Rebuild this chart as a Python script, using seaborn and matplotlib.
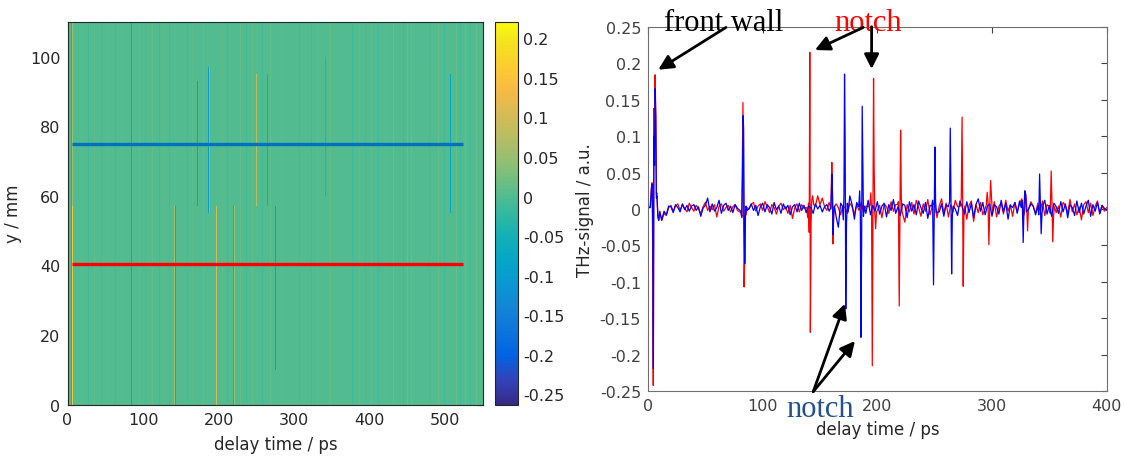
import numpy as np
import matplotlib
matplotlib.use("Agg")
import matplotlib.pyplot as plt
from matplotlib.colors import LinearSegmentedColormap
import seaborn as sns

# ------------------------------------------------------------------ data
# Left: B-scan (y / mm vs delay time / ps), echo stripes
stripe_t  = [5, 6, 6, 84, 85, 141, 142, 172, 186, 187, 196, 197, 219, 220,
             250, 264, 275, 341, 352, 483, 506]
stripe_y0 = [0, 0, 57, 0, 0, 0, 0, 57, 55, 55, 0, 0, 0, 0,
             57, 57, 10, 60, 0, 0, 55]
stripe_y1 = [110, 57, 110, 110, 110, 57, 57, 93, 97, 97, 57, 57, 57, 57,
             95, 95, 57, 100, 57, 57, 95]
stripe_v  = [-0.05, 0.15, 0.06, -0.07, 0.03, 0.06, -0.07, -0.08, -0.10, 0.04,
             -0.04, 0.10, -0.05, 0.05, 0.08, -0.06, -0.08, -0.04, -0.04, 0.08, -0.08]
faint_t = [12, 18, 27, 35, 44, 52, 63, 71, 95, 103, 112, 121, 128, 134, 151, 158,
           165, 179, 192, 205, 211, 228, 236, 244, 258, 268, 283, 290, 298, 306,
           315, 322, 330, 347, 360, 368, 377, 386, 394, 402, 411, 420, 431, 438,
           444, 449, 455, 462, 470, 478, 490, 498, 514, 519, 526, 533, 541]
faint_v = [-0.01, 0.008, -0.008, 0.01, -0.008, 0.008, -0.01, 0.008, 0.01, -0.008,
           0.01, -0.01, 0.008, -0.01, 0.01, -0.008, 0.008, 0.01, -0.01, 0.008,
           -0.01, 0.01, -0.008, 0.01, -0.01, 0.01, 0.008, -0.01, 0.01, -0.008,
           0.01, -0.01, 0.008, 0.01, -0.008, 0.01, -0.01, 0.008, -0.008, 0.01,
           -0.01, 0.008, 0.015, 0.018, -0.01, 0.018, 0.015, -0.01, 0.012, -0.008,
           0.012, -0.01, 0.015, -0.01, 0.018, -0.008, 0.012]
n_y_mm, n_t_ps = 110, 550
scan_t = [6, 523]          # extent of the two marked scan lines
blue_scan_y = 75.0
red_scan_y = 40.5

# Right: A-scans, baseline noise on a 2 ps grid (in 1e-3 a.u.)
noise_t = list(range(0, 401, 2))
red_noise_milli = [
    0, 1, 3, 5, 0, -14, -16, -6, -9, 2,
    5, -3, 4, 7, -2, 6, 1, -4, 8, 2,
    -3, 5, 0, -6, 3, 9, -2, 4, -1, 6,
    -11, 4, 7, -3, 2, 5, -4, 3, 6, -2,
    2, -5, 0, 0, 0, 6, 9, -3, 4, 7,
    -2, 10, 3, -5, 6, 2, -7, 4, 8, -1,
    3, -6, 5, -13, 2, 7, -4, 6, 1, -3,
    0, 0, 12, 4, 18, 6, 15, 3, -2, 9,
    0, -4, 7, 2, -8, 5, 1, -6, 8, 3,
    -7, 6, -2, 9, -5, 4, 3, 8, -1, -20,
    -8, 5, -12, 7, 3, -6, 10, -3, 6, -9,
    4, 11, -18, 6, -4, 9, -7, 12, 2, -10,
    7, -3, 13, -8, 5, 10, -12, 4, 14, -6,
    8, -11, 6, -4, 12, 3, -9, 7, 0, -14,
    5, 11, -17, 6, -5, 9, -8, 13, 3, 0,
    -6, 10, -11, 4, 8, -7, 12, -3, 6, -10,
    9, -4, 7, 14, -8, 5, -12, 10, 3, -6,
    8, -3, 11, -9, 6, 2, -7, 12, -5, 4,
    -11, 9, 5, -6, 13, -4, 7, -8, 3, -15,
    6, 10, -5, 8, -9, 4, 11, -7, 5, -3,
    2]
blue_noise_milli = [
    2, 0, 3, 4, 0, -12, -15, -3, -8, 4,
    3, -5, 6, 2, -4, 7, -1, 5, -3, 4,
    6, -2, 3, -10, 1, 5, 15, -4, 7, -3,
    2, 12, -6, 5, 8, -2, 4, -5, 6, 1,
    -3, 0, 0, 0, 0, 7, -2, 5, -9, 3,
    8, -4, 6, 2, -7, 9, -1, 4, -6, 7,
    0, 5, -8, 3, 6, -4, 8, -2, 5, -5,
    4, 2, -6, 7, 0, 5, -4, 3, 6, -3,
    0, 0, -10, -25, 8, 14, 0, -12, 18, 6,
    -14, 9, 0, 0, 0, -6, 12, -8, 5, -3,
    10, -7, 4, 8, -11, 6, -2, 13, -6, 3,
    -9, 7, 5, -12, 10, -3, 6, -8, 11, 2,
    -6, 9, -13, 5, 8, 0, 0, -4, 7, -10,
    6, 4, 0, 0, 0, -9, 11, 3, -7, 10,
    -5, 8, -12, 6, 14, -3, 9, -8, 4, 7,
    -10, 6, 3, -7, 12, -4, 8, -14, 5, 2,
    9, -6, 11, -3, 0, 0, 0, 7, 4, -8,
    0, 0, 0, 12, -7, 5, -10, 8, 3, -6,
    10, -4, 7, -12, 6, 2, -9, 11, -5, 8,
    -7, 4, 12, -10, 6, -3, 9, -6, 5, 1,
    -2]

# Echo pulses (y = 40.5 mm trace, red)
red_pulse_t = [2.0, 3.0, 3.6, 4.1, 4.6, 5.1, 5.5, 6.2, 6.8, 7.3, 7.8, 8.6, 9.4, 10.2,
               81.0, 81.8, 82.3, 82.8, 83.3, 83.8, 84.4, 85.0, 85.6, 86.3,
               138.5, 139.3, 140.0, 140.6, 141.1, 141.6, 142.2, 142.8, 143.6, 144.5,
               159.5, 160.3, 160.8, 161.3, 161.9, 162.5,
               193.5, 194.3, 195.0, 195.6, 196.1, 196.7, 197.2, 197.8, 198.5, 199.3,
               217.5, 218.4, 219.1, 219.7, 220.3, 220.9, 221.6,
               272.4, 273.2, 273.9, 274.4, 274.9, 275.5, 276.2,
               295.0, 295.8, 296.5, 297.3, 298.0, 298.8, 299.6, 300.4,
               329.5, 330.3, 331.0, 331.8,
               350.0, 350.8, 351.6, 352.3, 353.0, 353.7, 354.4]
red_pulse_v = [0.004, 0.030, 0.036, -0.060, -0.242, 0.138, 0.080, 0.184, 0.125, 0.020,
               0.022, -0.012, -0.015, -0.003,
               -0.005, -0.012, 0.069, 0.146, 0.020, -0.107, -0.060, 0.003, -0.008, 0.002,
               0.002, -0.012, 0.008, -0.032, 0.215, -0.169, -0.020, 0.012, 0.018, 0.006,
               0.000, 0.064, 0.030, -0.048, -0.010, 0.003,
               0.005, 0.022, -0.004, -0.215, -0.030, 0.179, 0.060, -0.005, -0.027, -0.004,
               0.006, 0.010, -0.133, -0.020, 0.108, 0.015, -0.004,
               0.004, 0.015, 0.126, 0.020, -0.106, -0.010, 0.004,
               0.005, 0.023, 0.010, -0.049, 0.000, 0.039, 0.015, -0.006,
               0.020, 0.004, -0.030, 0.000,
               0.003, -0.006, 0.052, 0.010, -0.045, -0.010, 0.003]
# Echo pulses (y = 75 mm trace, blue)
blue_pulse_t = [2.0, 3.0, 3.6, 4.1, 4.7, 5.2, 5.7, 6.2, 6.8, 7.3, 7.8, 8.6, 9.4, 10.2,
                81.0, 81.8, 82.4, 82.9, 83.4, 83.9, 84.4, 85.0, 85.6, 86.3,
                159.5, 160.4, 160.9, 161.4, 162.0, 162.6,
                169.5, 170.3, 170.9, 171.4, 171.9, 172.5, 173.1, 173.8, 174.5,
                183.8, 184.6, 185.2, 185.7, 186.3, 186.8, 187.3, 187.9, 188.6,
                247.3, 248.2, 249.0, 249.6, 250.2, 250.8, 251.5,
                262.0, 263.0, 263.6, 264.2, 264.8, 265.4, 266.1,
                325.5, 326.4, 327.2, 327.9, 328.6, 329.3, 330.0,
                340.0, 340.8, 341.5, 342.2, 342.9, 343.6, 344.3]
blue_pulse_v = [0.002, 0.028, 0.034, -0.015, -0.219, 0.100, 0.060, 0.165, 0.127, 0.015,
                0.018, -0.010, -0.016, -0.004,
                -0.003, -0.010, 0.040, 0.128, 0.110, -0.020, -0.075, -0.010, 0.004, -0.002,
                0.002, 0.048, 0.020, -0.035, -0.005, 0.004,
                0.004, -0.015, 0.020, 0.185, 0.100, -0.137, -0.020, 0.008, -0.004,
                0.003, 0.025, -0.010, -0.176, -0.050, 0.141, 0.070, -0.010, 0.004,
                0.004, 0.012, -0.104, -0.010, 0.085, 0.010, -0.005,
                0.003, 0.010, 0.111, 0.020, -0.089, -0.010, 0.004,
                0.002, 0.012, -0.046, 0.000, 0.025, 0.020, -0.004,
                0.004, -0.008, 0.048, 0.005, -0.034, -0.006, 0.004]

cbar_ticks = [-0.25, -0.2, -0.15, -0.1, -0.05, 0, 0.05, 0.1, 0.15, 0.2]
left_xticks = [0, 100, 200, 300, 400, 500]
left_yticks = [0, 20, 40, 60, 80, 100]
right_xticks = [0, 100, 200, 300, 400]
right_yticks = [-0.25, -0.2, -0.15, -0.1, -0.05, 0, 0.05, 0.1, 0.15, 0.2, 0.25]

# ------------------------------------------------------------------ style
sns.set_theme(style="white")
plt.rcParams["font.family"] = ["DejaVu Sans"]
plt.rcParams["axes.unicode_minus"] = False
TXT = "#262626"

parula_anchor = [
    (0.2081, 0.1663, 0.5292), (0.1959, 0.2645, 0.7279), (0.0117, 0.3875, 0.8820),
    (0.0498, 0.4586, 0.8641), (0.0793, 0.5200, 0.8312), (0.0343, 0.5966, 0.8199),
    (0.0228, 0.6535, 0.7768), (0.0843, 0.6928, 0.7062), (0.2178, 0.7250, 0.6193),
    (0.3953, 0.7459, 0.5244), (0.5709, 0.7485, 0.4494), (0.7184, 0.7411, 0.3905),
    (0.8507, 0.7299, 0.3360), (0.9739, 0.7314, 0.2666), (0.9880, 0.8066, 0.1794),
    (0.9589, 0.8949, 0.1132), (0.9763, 0.9831, 0.0538)]
parula_pos = [0, 4, 8, 12, 16, 20, 24, 28, 32, 36, 40, 44, 48, 52, 56, 60, 63]
parula = LinearSegmentedColormap.from_list(
    "parula", [(p / 63, c) for p, c in zip(parula_pos, parula_anchor)], N=256)


def fmt(v):
    return "0" if v == 0 else f"{v:g}"


# ------------------------------------------------------------------ figure
fig = plt.figure(figsize=(11.25, 4.6), dpi=100)
ax1 = fig.add_axes([0.060, 0.118, 0.3695, 0.8326])
cax = fig.add_axes([0.4396, 0.118, 0.0204, 0.8326])
ax2 = fig.add_axes([0.576, 0.1472, 0.4077, 0.7926])

# ---- B-scan heatmap
bscan = np.zeros((n_y_mm, n_t_ps))
for t, v in zip(faint_t, faint_v):
    bscan[:, t] += v
for t, y0, y1, v in zip(stripe_t, stripe_y0, stripe_y1, stripe_v):
    bscan[y0:y1, t] += v

sns.heatmap(bscan, ax=ax1, cbar_ax=cax, cmap=parula, vmin=-0.263, vmax=0.221,
            xticklabels=False, yticklabels=False, rasterized=True)
ax1.invert_yaxis()
ax1.set_xticks(left_xticks)
ax1.set_xticklabels([str(v) for v in left_xticks])
ax1.set_yticks(left_yticks)
ax1.set_yticklabels([str(v) for v in left_yticks], rotation=0)
ax1.tick_params(direction="in", length=4, width=0.8, colors=TXT, labelsize=11.5,
                top=True, right=True, bottom=True, left=True, pad=5)
for s in ax1.spines.values():
    s.set_visible(True)
    s.set_color(TXT)
    s.set_linewidth(0.8)
ax1.plot(scan_t, [blue_scan_y, blue_scan_y], color="#0072BD", lw=2.4,
         solid_capstyle="butt")
ax1.plot(scan_t, [red_scan_y, red_scan_y], color="#FF0000", lw=2.4,
         solid_capstyle="butt")
ax1.set_xlabel("delay time / ps", fontsize=12, color=TXT, labelpad=6)
ax1.set_ylabel("y / mm", fontsize=12, color=TXT, labelpad=6)

cbar = ax1.collections[0].colorbar
cbar.set_ticks(cbar_ticks)
cbar.set_ticklabels([fmt(v) for v in cbar_ticks])
cbar.ax.tick_params(direction="in", length=4, width=0.8, colors=TXT,
                    labelsize=11.5, pad=4)
cbar.outline.set_edgecolor(TXT)
cbar.outline.set_linewidth(0.8)


# ---- A-scans
def build_trace(noise_milli, pulse_t, pulse_v):
    tg = np.asarray(noise_t, dtype=float)
    nv = np.asarray(noise_milli, dtype=float) / 1000.0
    pt = np.asarray(pulse_t, dtype=float)
    pv = np.asarray(pulse_v, dtype=float)
    keep = np.array([np.min(np.abs(pt - t)) > 1.0 for t in tg])
    t = np.concatenate([tg[keep], pt])
    v = np.concatenate([nv[keep], pv])
    order = np.argsort(t, kind="stable")
    return t[order], v[order]


rt, rv = build_trace(red_noise_milli, red_pulse_t, red_pulse_v)
bt, bv = build_trace(blue_noise_milli, blue_pulse_t, blue_pulse_v)
sns.lineplot(x=rt, y=rv, ax=ax2, color="#FF0000", lw=0.9, estimator=None, sort=False)
sns.lineplot(x=bt, y=bv, ax=ax2, color="#0000FF", lw=0.9, estimator=None, sort=False)

ax2.set_xlim(0, 400)
ax2.set_ylim(-0.25, 0.25)
ax2.set_xticks(right_xticks)
ax2.set_xticklabels([str(v) for v in right_xticks])
ax2.set_yticks(right_yticks)
ax2.set_yticklabels([fmt(v) for v in right_yticks])
ax2.tick_params(direction="in", length=4, width=0.8, colors="#404040",
                labelsize=11.5, top=True, right=True, pad=5)
for s in ax2.spines.values():
    s.set_visible(True)
    s.set_color("#6e6e6e")
    s.set_linewidth(0.8)
ax2.set_xlabel("delay time / ps", fontsize=12, color=TXT, labelpad=5)
ax2.set_ylabel("THz-signal / a.u.", fontsize=12, color=TXT, labelpad=4)

# ---- annotations
serif = ["Liberation Serif", "DejaVu Serif"]
arrow_kw = dict(arrowstyle="-|>", color="black", lw=2.0, mutation_scale=22,
                shrinkA=0, shrinkB=0)
ax2.text(66.3, 0.2455, "front wall", family=serif, fontsize=22, color="black",
         ha="center", va="baseline", clip_on=False)
ax2.text(192.4, 0.2455, "notch", family=serif, fontsize=22, color="#FF0000",
         ha="center", va="baseline", clip_on=False)
ax2.text(150.4, -0.2843, "notch", family=serif, fontsize=22, color="#24508F",
         ha="center", va="baseline", clip_on=False)
ax2.annotate("", xy=(9.0, 0.191), xytext=(68.0, 0.249), arrowprops=arrow_kw,
             annotation_clip=False)
ax2.annotate("", xy=(145.6, 0.218), xytext=(187.7, 0.249), arrowprops=arrow_kw,
             annotation_clip=False)
ax2.annotate("", xy=(195.0, 0.192), xytext=(195.0, 0.250), arrowprops=arrow_kw,
             annotation_clip=False)
ax2.annotate("", xy=(171.7, -0.130), xytext=(144.1, -0.2505), arrowprops=arrow_kw,
             annotation_clip=False)
ax2.annotate("", xy=(180.5, -0.181), xytext=(144.1, -0.2505), arrowprops=arrow_kw,
             annotation_clip=False)

fig.savefig("out.png", dpi=100)
